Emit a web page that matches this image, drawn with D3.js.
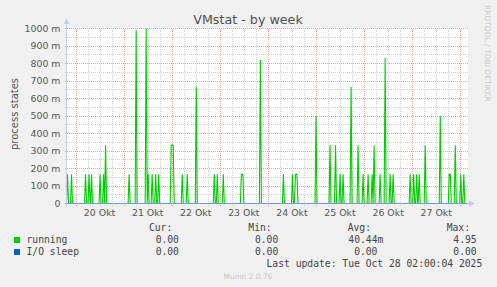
<!DOCTYPE html>
<html><head><meta charset="utf-8">
<script src="https://cdn.jsdelivr.net/npm/d3@7"></script>
<style>html,body{margin:0;padding:0;background:#f0f0f0;}svg{display:block}</style>
</head><body><svg id="c" width="497" height="287"></svg>
<script>
const title = "VMstat - by week";
const yAxisTitle = "process states";
const watermark = "RRDTOOL / TOBI OETIKER";
const footer = "Munin 2.0.76";
const lastUpdate = "Last update: Tue Oct 28 02:00:04 2025";

const timeDomain = ["2025-10-19 19:45", "2025-10-28 03:21"];

const spikeTimes = [
  "2025-10-19 20:00","2025-10-19 22:00","2025-10-20 05:00","2025-10-20 06:45","2025-10-20 08:00",
  "2025-10-20 12:15","2025-10-20 14:00","2025-10-20 15:00","2025-10-21 02:45","2025-10-21 06:15",
  "2025-10-21 11:15","2025-10-21 12:15","2025-10-21 14:15","2025-10-21 16:00","2025-10-21 17:30",
  "2025-10-21 23:45","2025-10-22 00:45","2025-10-22 05:15","2025-10-22 07:45","2025-10-22 12:15",
  "2025-10-22 21:15","2025-10-22 22:45","2025-10-23 01:45","2025-10-23 10:45","2025-10-23 11:30",
  "2025-10-23 20:15","2025-10-24 07:45","2025-10-24 12:15","2025-10-24 13:45","2025-10-24 14:30",
  "2025-10-25 00:00","2025-10-25 07:00","2025-10-25 09:45","2025-10-25 12:00","2025-10-25 13:30",
  "2025-10-25 17:30","2025-10-25 21:00","2025-10-25 23:30","2025-10-26 02:00","2025-10-26 04:00",
  "2025-10-26 05:00","2025-10-26 08:00","2025-10-26 10:30","2025-10-26 13:00","2025-10-26 14:30",
  "2025-10-26 23:00","2025-10-27 00:45","2025-10-27 02:15","2025-10-27 03:30","2025-10-27 06:30",
  "2025-10-27 14:00","2025-10-27 18:30","2025-10-27 19:00","2025-10-27 21:30","2025-10-28 00:15",
  "2025-10-28 01:45"
];
const runningValues = [
  0.1667,0.1667,0.1667,0.1667,0.1667,
  0.1667,0.1667,0.3333,0.1667,0.99,
  1.0,0.1667,0.1667,0.1667,0.1667,
  0.3333,0.3333,0.1667,0.1667,0.6667,
  0.1667,0.1667,0.1667,0.1667,0.1667,
  0.82,0.1667,0.1667,0.1667,0.1667,
  0.5,0.3333,0.3333,0.1667,0.1667,
  0.6667,0.3333,0.1667,0.1667,0.1667,
  0.3333,0.1667,0.8333,0.1667,0.1667,
  0.1667,0.1667,0.1667,0.1667,0.3333,
  0.5,0.1667,0.1667,0.3333,0.1667,
  0.1667
];
const ioSleepTimes = ["2025-10-19 19:45", "2025-10-28 03:21"];
const ioSleepValues = [0, 0];

const yTickValues = [0,0.1,0.2,0.3,0.4,0.5,0.6,0.7,0.8,0.9,1.0];
const yTickLabels = ["0","100 m","200 m","300 m","400 m","500 m","600 m","700 m","800 m","900 m","1000 m"];
const yMinorValues = [0.05,0.15,0.25,0.35,0.45,0.55,0.65,0.75,0.85,0.95];
const dayTicks = ["2025-10-20","2025-10-21","2025-10-22","2025-10-23","2025-10-24","2025-10-25","2025-10-26","2025-10-27","2025-10-28"];
const dayLabels = ["20 Okt","21 Okt","22 Okt","23 Okt","24 Okt","25 Okt","26 Okt","27 Okt"];

const seriesNames = ["running","I/O sleep"];
const seriesColors = ["#00cc00","#0066b3"];
const curValues = ["0.00","0.00"];
const minValues = ["0.00","0.00"];
const avgValues = ["40.44m","0.00"];
const maxValues = ["4.95","0.00"];

const parse = d3.utcParse("%Y-%m-%d %H:%M");
const parseDay = d3.utcParse("%Y-%m-%d");
const svg = d3.select("#c");
const L = 67, R = 467, T = 28.5, B = 203.5;
const x = d3.scaleUtc().domain(timeDomain.map(parse)).range([L, R]);
const y = d3.scaleLinear().domain([0, 1]).range([B, T]);

svg.append("rect").attr("width",497).attr("height",287).attr("fill","#f0f0f0");
svg.append("rect").attr("x",L).attr("y",T-0.5).attr("width",R-L+1).attr("height",B-T+0.5).attr("fill","#ffffff");

const grid = svg.append("g").attr("shape-rendering","crispEdges");
grid.selectAll(".hm").data(yMinorValues).enter().append("line")
  .attr("x1",L-2).attr("x2",R+1).attr("y1",d=>y(d)).attr("y2",d=>y(d))
  .attr("stroke","#cfcfcf").attr("stroke-dasharray","1,1");
const minorTimes = d3.utcHour.every(6).range(x.domain()[0], x.domain()[1]).filter(d=>d.getUTCHours()!==0);
grid.selectAll(".vm").data(minorTimes).enter().append("line")
  .attr("x1",d=>Math.round(x(d))+0.5).attr("x2",d=>Math.round(x(d))+0.5).attr("y1",T).attr("y2",B+2)
  .attr("stroke","#cfcfcf").attr("stroke-dasharray","1,1");
grid.selectAll(".hM").data(yTickValues.slice(1)).enter().append("line")
  .attr("x1",L-2).attr("x2",R+1).attr("y1",d=>y(d)).attr("y2",d=>y(d))
  .attr("stroke","#eaa2a2").attr("stroke-dasharray","1,1");
grid.selectAll(".vM").data(dayTicks.map(parseDay)).enter().append("line")
  .attr("x1",d=>Math.round(x(d))+0.5).attr("x2",d=>Math.round(x(d))+0.5).attr("y1",T).attr("y2",B+2)
  .attr("stroke","#eaa2a2").attr("stroke-dasharray","1,1");

svg.append("clipPath").attr("id","pc").append("rect").attr("x",L).attr("y",0).attr("width",R-L+1).attr("height",B+1);
const half = 30*60*1000;
const pts = [];
const ts = spikeTimes.map(s=>+parse(s));
ts.forEach((t,i)=>{
  const v = runningValues[i];
  const prevJoin = i>0 && runningValues[i-1]===v && t-ts[i-1] <= 2*half;
  const nextJoin = i<ts.length-1 && runningValues[i+1]===v && ts[i+1]-t <= 2*half;
  if(!prevJoin) pts.push([t-half,0]);
  pts.push([t,v]);
  if(!nextJoin) pts.push([t+half,0]);
});
const line = d3.line().x(d=>x(d[0])).y(d=>y(d[1]));
const plot = svg.append("g").attr("clip-path","url(#pc)");
plot.append("path").datum(pts).attr("d",line).attr("fill","none")
  .attr("stroke",seriesColors[0]).attr("stroke-width",1.1);

svg.append("line").attr("x1",L-0.5).attr("x2",L-0.5).attr("y1",B+2).attr("y2",22)
  .attr("stroke","#c4ccee").attr("shape-rendering","crispEdges");
svg.append("path").attr("d",`M${L-3.5},${24}L${L-0.5},${18}L${L+2.5},${24}Z`).attr("fill","#c4ccee");
svg.append("line").attr("x1",L-2).attr("x2",R+3).attr("y1",B).attr("y2",B)
  .attr("stroke","#9fb0e4").attr("shape-rendering","crispEdges");
const ioPts = ioSleepTimes.map((s,i)=>[+parse(s), ioSleepValues[i]]);
svg.append("path").datum(ioPts).attr("d",line).attr("fill","none")
  .attr("stroke",seriesColors[1]).attr("stroke-opacity",0.3).attr("shape-rendering","crispEdges");
svg.append("path").attr("d",`M${R+2},${B-3}L${R+8},${B}L${R+2},${B+3}Z`).attr("fill","#c4ccee");

const sans = "DejaVu Sans, sans-serif";
const mono = "DejaVu Sans Mono, monospace";
svg.selectAll(".yl").data(yTickValues).enter().append("text")
  .attr("x",60.5).attr("y",d=>y(d)+3.4).attr("text-anchor","end")
  .attr("font-family",sans).attr("font-size",9.4).attr("fill","#555")
  .text((d,i)=>yTickLabels[i]);
svg.selectAll(".xl").data(dayLabels).enter().append("text")
  .attr("x",(d,i)=>x(d3.utcHour.offset(parseDay(dayTicks[i]),12))).attr("y",216)
  .attr("text-anchor","middle").attr("font-family",sans).attr("font-size",9.4).attr("fill","#555")
  .text(d=>d);

svg.append("text").attr("x",248).attr("y",23.5).attr("text-anchor","middle")
  .attr("font-family",sans).attr("font-size",12.7).attr("fill","#505050").text(title);
svg.append("text").attr("transform","translate(17.5,114) rotate(-90)").attr("text-anchor","middle")
  .attr("font-family",sans).attr("font-size",10).attr("fill","#555").text(yAxisTitle);
svg.append("text").attr("transform","translate(485,5) rotate(90)").attr("text-anchor","start")
  .attr("font-family",sans).attr("font-size",7.5).attr("fill","#c8c8c8").text(watermark);

const lg = svg.append("g").attr("font-family",mono).attr("font-size",9.7).attr("fill","#444");
const heads = [["Cur:",172.3],["Min:",271.7],["Avg:",371],["Max:",470]];
heads.forEach(h=>lg.append("text").attr("x",h[1]).attr("y",230.5).attr("text-anchor","end").text(h[0]));
const cols = [[curValues,184.8],[minValues,284.1],[avgValues,383.3],[maxValues,482.5]];
seriesNames.forEach((n,i)=>{
  const by = 242.5 + i*12;
  svg.append("rect").attr("x",14).attr("y",by-5.5).attr("width",6).attr("height",6).attr("fill",seriesColors[i]);
  lg.append("text").attr("x",26.5).attr("y",by).text(n);
  cols.forEach(c=>{
    const s = c[0][i];
    const end = /[0-9]$/.test(s) ? c[1]-5.83 : c[1];
    lg.append("text").attr("x",end).attr("y",by).attr("text-anchor","end").text(s);
  });
});
lg.append("text").attr("x",482.3).attr("y",266.5).attr("text-anchor","end").text(lastUpdate);
svg.append("text").attr("x",248).attr("y",279).attr("text-anchor","middle")
  .attr("font-family",sans).attr("font-size",7.5).attr("fill","#c8c8c8").text(footer);
</script></body></html>
